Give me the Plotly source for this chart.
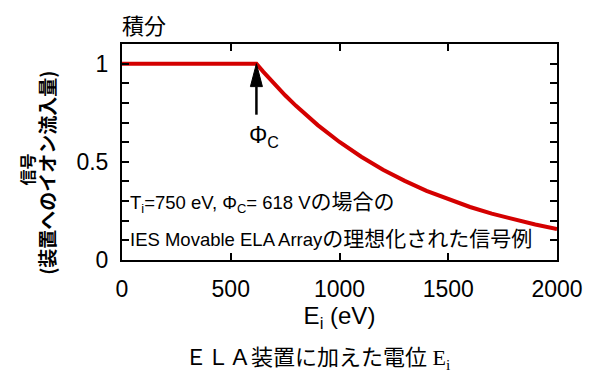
import plotly.graph_objects as go

# ---- data ----
energy_ev = [0, 618, 650, 700, 750, 800, 900, 1000, 1100, 1200, 1300, 1400,
             1500, 1600, 1700, 1800, 1900, 2000]
signal = [1.0, 1.0, 0.958, 0.896, 0.839, 0.785, 0.687, 0.601, 0.526, 0.460,
          0.403, 0.352, 0.309, 0.270, 0.236, 0.207, 0.181, 0.158]
phi_c = 618
x_ticks = [0, 500, 1000, 1500, 2000]
x_ticktext = ["0", "500", "1000", "1500", "2000"]
y_ticks = [0, 0.1, 0.2, 0.3, 0.4, 0.5, 0.6, 0.7, 0.8, 0.9, 1.0]
y_ticktext = ["0", "", "", "", "", "0.5", "", "", "", "", "1"]

SANS = "Liberation Sans, Arial, Noto Sans CJK JP"
CJK = "Noto Sans CJK JP"

fig = go.Figure()
fig.add_trace(go.Scatter(x=energy_ev, y=signal, mode="lines",
                         line=dict(color="#d40000", width=4),
                         showlegend=False, hoverinfo="skip"))

axis_common = dict(showline=True, linewidth=2, linecolor="black", mirror="ticks",
                   ticks="inside", ticklen=7, tickwidth=2, tickcolor="black",
                   showgrid=False, zeroline=False, automargin=False,
                   tickfont=dict(family=SANS, size=23, color="black"))

fig.update_xaxes(range=[0, 2000], tickvals=x_ticks, ticktext=x_ticktext,
                 ticklabelstandoff=7,
                 title=dict(text="E<sub>i</sub> (eV)", standoff=2,
                            font=dict(family=SANS, size=24, color="black")),
                 **axis_common)
fig.update_yaxes(range=[0, 1.1], tickvals=y_ticks, ticktext=y_ticktext,
                 ticklabelstandoff=7, **axis_common)

# arrow marking Φ_C
y_head_base = 0.883
y_tail = 0.74
half_w = 27.6
fig.add_shape(type="line", x0=phi_c, x1=phi_c, y0=y_tail, y1=y_head_base,
              line=dict(color="black", width=2.5))
fig.add_shape(type="path",
              path=f"M {phi_c - half_w} {y_head_base} L {phi_c + half_w} {y_head_base} L {phi_c} 1.0 Z",
              fillcolor="black", line=dict(color="black", width=1))
fig.add_annotation(x=phi_c, y=0.627, xref="x", yref="y", xanchor="left", xshift=-9,
                   text="Φ<sub>C</sub>", showarrow=False,
                   font=dict(family=SANS, size=23, color="black"))

# in-plot description
cjk_span = '<span style="font-size:21px">{}</span>'
fig.add_annotation(x=0.014, y=0.265, xref="paper", yref="paper", xanchor="left", yanchor="middle",
                   text="T<sub>i</sub>=750 eV, Φ<sub>C</sub>= 618 V" + cjk_span.format("の場合の"),
                   showarrow=False, font=dict(family=SANS, size=18.5, color="black"))
fig.add_annotation(x=0.014, y=0.10, xref="paper", yref="paper", xanchor="left", yanchor="middle",
                   text="IES Movable ELA Array" + cjk_span.format("の理想化された信号例"),
                   showarrow=False, font=dict(family=SANS, size=18.5, color="black"))

# title above plot
fig.add_annotation(x=0, y=1.0, xref="paper", yref="paper", xanchor="left", yanchor="bottom",
                   yshift=2, xshift=-2, text="積分", showarrow=False,
                   font=dict(family=CJK, size=22, color="black"))

# y-axis title (two lines, bold)
fig.add_annotation(x=-0.218, y=0.42, xref="paper", yref="paper", textangle=-90,
                   xanchor="center", yanchor="middle",
                   text="<b>信号</b>", showarrow=False,
                   font=dict(family=CJK, size=16, color="black"))
fig.add_annotation(x=-0.174, y=0.405, xref="paper", yref="paper", textangle=-90,
                   xanchor="center", yanchor="middle",
                   text="<b>(装置へのイオン流入量)</b>", showarrow=False,
                   font=dict(family=CJK, size=19, color="black"))

# caption below
fig.add_annotation(x=0.45, y=-0.46, xref="paper", yref="paper", xanchor="center", yanchor="middle",
                   text="ＥＬＡ装置に加えた電位 E<sub>i</sub>", showarrow=False,
                   font=dict(family="Liberation Serif, Noto Sans CJK JP", size=22, color="black"))

# page body has an 8px default margin, so the figure is sized/margined to compensate
fig.update_layout(width=583, height=373, margin=dict(l=114, r=34, t=36, b=121),
                  paper_bgcolor="white", plot_bgcolor="white")

fig.write_html("out.html")
